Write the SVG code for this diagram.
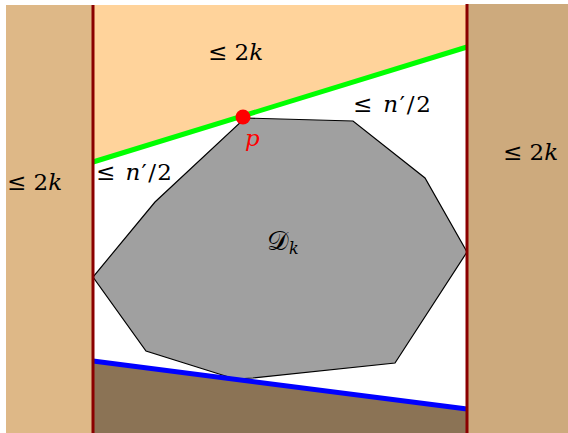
<svg xmlns="http://www.w3.org/2000/svg" width="568" height="433" viewBox="0 0 568 433">
<style>
.lbl{font-family:'DejaVu Serif','Liberation Serif',serif;font-size:23px;fill:#000}
.it{font-style:italic}
.wall{stroke:#8b0000;stroke-width:3}
</style>
<rect width="568" height="433" fill="#fff"/>
<g id="left-strip"><rect x="6" y="5" width="87" height="428" fill="#deb887"/></g>
<g id="right-strip"><rect x="467" y="4" width="101" height="429" fill="#cdaa7d"/></g>
<g id="top-region"><polygon points="93,5 467,5 467,47 93,162" fill="#ffd39b"/></g>
<g id="bottom-region"><polygon points="93,361 467,409 467,433 93,433" fill="#8b7355"/></g>
<g id="polygon-D"><polygon points="245,118 353,121 425,178 467,252 395,363 253,378 235,379 146,351 93,277 155,202" fill="#a0a0a0" stroke="#000" stroke-width="1.2"/></g>
<g id="connectors">
<line x1="93" y1="162" x2="467" y2="47" stroke="#00ff00" stroke-width="5"/>
<line x1="93" y1="361" x2="467" y2="409" stroke="#0000ff" stroke-width="5"/>
<line class="wall" x1="93" y1="5" x2="93" y2="433"/>
<line class="wall" x1="467" y1="4" x2="467" y2="433"/>
</g>
<g id="point-p"><circle cx="243" cy="117" r="7.5" fill="#ff0000"/><text class="lbl it" x="245" y="146" style="fill:#ff0000">p</text></g>
<g id="labels">
<text class="lbl" x="208" y="60">≤ 2<tspan class="it">k</tspan></text>
<text class="lbl" x="7" y="190">≤ 2<tspan class="it">k</tspan></text>
<text class="lbl" x="503" y="160">≤ 2<tspan class="it">k</tspan></text>
<text class="lbl" x="96" y="180" textLength="76" lengthAdjust="spacing">≤ <tspan class="it">n</tspan>′/2</text>
<text class="lbl" x="353" y="112" textLength="78" lengthAdjust="spacing">≤ <tspan class="it">n</tspan>′/2</text>
<text class="lbl" x="267" y="250" style="font-size:27px">𝒟<tspan class="it" style="font-size:16px" dy="4">k</tspan></text>
</g>
</svg>
